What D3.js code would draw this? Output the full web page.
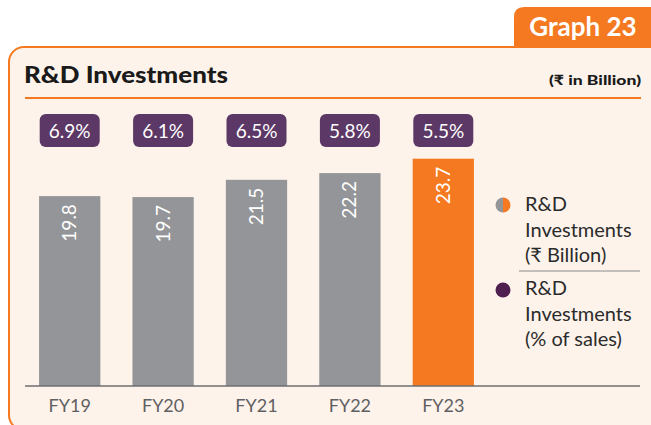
<!DOCTYPE html>
<html>
<head>
<meta charset="utf-8">
<script src="https://cdn.jsdelivr.net/npm/d3@7/dist/d3.min.js"></script>
<style>
  html, body { margin: 0; padding: 0; background: #ffffff; }
  svg { display: block; font-family: Lato, "Noto Sans", sans-serif; }
</style>
</head>
<body>
<svg id="chart" width="651" height="425"></svg>
<script>
// R&D investments by fiscal year
const years = ["FY19", "FY20", "FY21", "FY22", "FY23"];
const investment = [19.8, 19.7, 21.5, 22.2, 23.7];      // ₹ Billion
const shareOfSales = [6.9, 6.1, 6.5, 5.8, 5.5];          // % of sales
const legendItems = [
  ["R&D", "Investments", "(₹ Billion)"],
  ["R&D", "Investments", "(% of sales)"]
];

const ORANGE = "#f47920";
const GREY = "#939598";
const PURPLE = "#5c3866";
const PANEL = "#fef3eb";

const svg = d3.select("#chart");

// Panel with orange border (left/top visible)
svg.append("rect")
  .attr("x", 9).attr("y", 47)
  .attr("width", 700).attr("height", 383)
  .attr("rx", 15)
  .attr("fill", PANEL)
  .attr("stroke", ORANGE)
  .attr("stroke-width", 2);

// "Graph 23" tab
svg.append("path")
  .attr("d", "M514,46 L514,17 Q514,7 524,7 L660,7 L660,46 Z")
  .attr("fill", ORANGE);
svg.append("text")
  .attr("x", 583).attr("y", 36)
  .attr("text-anchor", "middle")
  .attr("fill", "#ffffff")
  .attr("font-size", 26)
  .attr("font-weight", 700)
  .text("Graph 23");

// Title and unit (set in a wide heavy face)
svg.append("text")
  .attr("x", 24).attr("y", 83)
  .attr("fill", "#1a1a1a")
  .attr("font-size", 22.5)
  .attr("font-weight", 900)
  .attr("textLength", 204)
  .attr("lengthAdjust", "spacingAndGlyphs")
  .text("R&D Investments");
svg.append("text")
  .attr("x", 641).attr("y", 85)
  .attr("text-anchor", "end")
  .attr("fill", "#1a1a1a")
  .attr("font-size", 14)
  .attr("font-weight", 900)
  .attr("textLength", 92)
  .attr("lengthAdjust", "spacingAndGlyphs")
  .text("(₹ in Billion)");
svg.append("line")
  .attr("x1", 25).attr("x2", 641)
  .attr("y1", 98).attr("y2", 98)
  .attr("stroke", ORANGE)
  .attr("stroke-width", 2);

// Scales
const x = d3.scaleBand()
  .domain(years)
  .range([23, 490])
  .paddingInner(0.344)
  .paddingOuter(0.172);

const baseline = 386;
const y = d3.scaleLinear()
  .domain([0, 10])
  .range([baseline, baseline - 95.9]);

const rows = years.map((yr, i) => ({ yr, v: investment[i], p: shareOfSales[i], last: i === years.length - 1 }));

// Bars
svg.append("g").selectAll("rect")
  .data(rows)
  .join("rect")
  .attr("x", d => x(d.yr))
  .attr("y", d => y(d.v))
  .attr("width", x.bandwidth())
  .attr("height", d => baseline - y(d.v))
  .attr("fill", d => d.last ? ORANGE : GREY);

// Rotated value labels inside bars
svg.append("g").selectAll("text")
  .data(rows)
  .join("text")
  .attr("transform", d => `translate(${x(d.yr) + x.bandwidth() / 2 + 6.5},${y(d.v) + 8}) rotate(-90)`)
  .attr("text-anchor", "end")
  .attr("fill", "#ffffff")
  .attr("font-size", 19)
  .text(d => d3.format(".1f")(d.v));

// Percent-of-sales badges
const badges = svg.append("g").selectAll("g")
  .data(rows)
  .join("g")
  .attr("transform", d => `translate(${x(d.yr) + x.bandwidth() / 2},130.5)`);
badges.append("rect")
  .attr("x", -30).attr("y", -16.5)
  .attr("width", 60).attr("height", 33)
  .attr("rx", 6)
  .attr("fill", PURPLE);
badges.append("text")
  .attr("y", 7)
  .attr("text-anchor", "middle")
  .attr("fill", "#ffffff")
  .attr("font-size", 19)
  .text(d => d3.format(".1f")(d.p) + "%");

// X axis
const xAxis = svg.append("g")
  .attr("transform", `translate(0,${baseline})`)
  .call(d3.axisBottom(x).tickSize(0).tickPadding(13));
xAxis.select(".domain").remove();
xAxis.selectAll("text")
  .attr("font-family", "Lato, 'Noto Sans', sans-serif")
  .attr("font-size", 18)
  .attr("fill", "#5f6062");
svg.append("line")
  .attr("x1", 25).attr("x2", 640)
  .attr("y1", baseline).attr("y2", baseline)
  .attr("stroke", "#6d6e71")
  .attr("stroke-width", 1.5);

// Legend
const lg = svg.append("g");
const lgTop = [211, 295];
// half grey / half orange marker
lg.append("path")
  .attr("d", d3.arc()({ innerRadius: 0, outerRadius: 7.5, startAngle: Math.PI, endAngle: 2 * Math.PI }))
  .attr("transform", "translate(503,205)")
  .attr("fill", GREY);
lg.append("path")
  .attr("d", d3.arc()({ innerRadius: 0, outerRadius: 7.5, startAngle: 0, endAngle: Math.PI }))
  .attr("transform", "translate(503,205)")
  .attr("fill", ORANGE);
lg.append("circle")
  .attr("cx", 503).attr("cy", 290).attr("r", 7.5)
  .attr("fill", "#4e1f4f");
legendItems.forEach((lines, k) => {
  lines.forEach((t, j) => {
    lg.append("text")
      .attr("x", 525).attr("y", lgTop[k] + j * 25.5)
      .attr("fill", "#2b2b2b")
      .attr("font-size", 20)
      .text(t);
  });
});
lg.append("line")
  .attr("x1", 519).attr("x2", 640)
  .attr("y1", 271).attr("y2", 271)
  .attr("stroke", "#8a8a8a")
  .attr("stroke-width", 1);
</script>
</body>
</html>
